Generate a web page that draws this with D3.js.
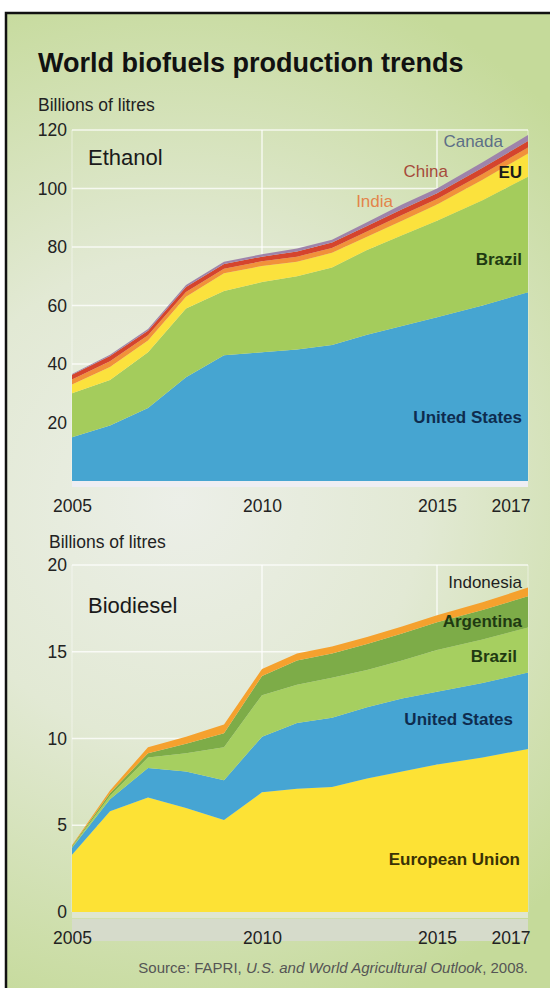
<!DOCTYPE html>
<html>
<head>
<meta charset="utf-8">
<script src="https://cdn.jsdelivr.net/npm/d3@7"></script>
<style>
  body { margin: 0; background: #fff; }
  svg { display: block; }
  text { font-family: "Liberation Sans", Arial, Helvetica, sans-serif; }
</style>
</head>
<body>
<svg id="chart" width="550" height="988"></svg>
<script>
// ---- Data (billions of litres) ----
const years = [2005, 2006, 2007, 2008, 2009, 2010, 2011, 2012, 2013, 2014, 2015, 2016, 2017];

// Ethanol
const ethanolUS     = [15, 19, 25, 35.5, 43, 44, 45, 46.5, 50, 53, 56, 60, 64.5];
const ethanolBrazil = [15, 15.5, 19, 23.5, 22, 24, 25, 26.5, 29, 31, 33, 36, 39.5];
const ethanolEU     = [3, 4.5, 4, 4, 6, 5.5, 5, 5, 4.5, 5, 5.5, 7, 8];
const ethanolIndia  = [1.7, 1.9, 1.8, 1.6, 1.6, 1.6, 1.7, 1.7, 1.8, 1.9, 1.9, 2.0, 2.0];
const ethanolChina  = [1.6, 1.8, 1.6, 1.7, 1.6, 1.6, 1.8, 1.8, 1.9, 2.0, 2.0, 2.1, 2.2];
const ethanolCanada = [0.3, 0.5, 0.6, 0.7, 0.8, 0.8, 1.0, 1.0, 1.3, 1.6, 1.6, 1.9, 2.1];

// Biodiesel
const biodieselEU        = [3.3, 5.8, 6.6, 6.0, 5.3, 6.9, 7.1, 7.2, 7.7, 8.1, 8.5, 8.9, 9.4];
const biodieselUS        = [0.4, 0.7, 1.7, 2.1, 2.3, 3.2, 3.8, 4.0, 4.1, 4.2, 4.2, 4.3, 4.4];
const biodieselBrazil    = [0.05, 0.2, 0.6, 1.05, 1.9, 2.4, 2.2, 2.3, 2.15, 2.2, 2.4, 2.5, 2.6];
const biodieselArgentina = [0.05, 0.15, 0.25, 0.55, 0.8, 1.1, 1.4, 1.4, 1.5, 1.55, 1.6, 1.7, 1.8];
const biodieselIndonesia = [0.05, 0.15, 0.35, 0.4, 0.5, 0.4, 0.4, 0.4, 0.4, 0.4, 0.4, 0.45, 0.5];

const xTicks = [2005, 2010, 2015, 2017];
const ethanolTicks = [20, 40, 60, 80, 100, 120];
const biodieselTicks = [0, 5, 10, 15, 20];

// ---- Setup ----
const svg = d3.select("#chart");
const defs = svg.append("defs");

const bg = defs.append("radialGradient")
  .attr("id", "bg").attr("gradientUnits", "userSpaceOnUse")
  .attr("cx", 180).attr("cy", 500).attr("r", 540);
bg.append("stop").attr("offset", 0).attr("stop-color", "#ecefe8");
bg.append("stop").attr("offset", 0.45).attr("stop-color", "#e2e9d4");
bg.append("stop").attr("offset", 1).attr("stop-color", "#c5da9a");

// framed panel
svg.append("rect").attr("x", 6).attr("y", 13).attr("width", 560).attr("height", 990)
  .attr("fill", "url(#bg)").attr("stroke", "#111").attr("stroke-width", 2.5);

svg.append("text").attr("x", 38).attr("y", 72)
  .attr("font-size", 27).attr("font-weight", "bold").attr("fill", "#111")
  .text("World biofuels production trends");

// horizontal scale shared by both panels
const x = d3.scaleLinear().domain([2005, 2010, 2015, 2017]).range([72, 262, 437, 528]);
const plotLeft = 72, plotRight = 528;

function panel(opts) {
  const g = svg.append("g");
  const y = d3.scaleLinear().domain(opts.yDomain).range(opts.yRange);

  g.append("text").attr("x", opts.unitX).attr("y", opts.unitY)
    .attr("font-size", 17.5).attr("fill", "#222").text("Billions of litres");

  // baseline band under the plot, and the strip behind the year labels
  g.append("rect").attr("x", plotLeft).attr("y", y(0))
    .attr("width", plotRight - plotLeft).attr("height", 6)
    .attr("fill", opts.bandColor);
  if (opts.labelStrip) {
    g.append("rect").attr("x", plotLeft).attr("y", y(0) + 7)
      .attr("width", plotRight - plotLeft).attr("height", 22)
      .attr("fill", opts.labelStrip);
  }

  // grid
  const top = y(opts.yDomain[1]);
  g.selectAll("line.h").data(opts.yTicks.filter(d => d > 0)).join("line")
    .attr("x1", plotLeft).attr("x2", plotRight)
    .attr("y1", d => y(d)).attr("y2", d => y(d))
    .attr("stroke", "#fff").attr("stroke-opacity", 0.75).attr("stroke-width", 1.5);
  g.selectAll("line.v").data([2010, 2015]).join("line")
    .attr("x1", d => x(d)).attr("x2", d => x(d))
    .attr("y1", top).attr("y2", y(0))
    .attr("stroke", "#fff").attr("stroke-opacity", 0.75).attr("stroke-width", 1.5);
  g.selectAll("line.e").data([2005, 2017]).join("line")
    .attr("x1", d => x(d)).attr("x2", d => x(d))
    .attr("y1", top).attr("y2", y(0))
    .attr("stroke", "#fff").attr("stroke-opacity", 0.4).attr("stroke-width", 1.2);

  // stacked areas
  const table = years.map((yr, i) => {
    const row = { year: yr };
    opts.series.forEach(s => { row[s.key] = s.values[i]; });
    return row;
  });
  const stack = d3.stack().keys(opts.series.map(s => s.key))(table);
  const area = d3.area()
    .x(d => x(d.data.year))
    .y0(d => y(d[0]))
    .y1(d => y(d[1]));
  g.selectAll("path.layer").data(stack).join("path")
    .attr("d", area)
    .attr("fill", (d, i) => opts.series[i].color);

  // axes
  const yAxis = g.append("g").attr("transform", `translate(${plotLeft},0)`)
    .call(d3.axisLeft(y).tickValues(opts.yTicks).tickSize(0).tickPadding(5));
  yAxis.select(".domain").remove();
  yAxis.selectAll("text").attr("font-size", 17.5).attr("fill", "#222")
    .attr("font-family", "'Liberation Sans', Arial, sans-serif");

  const xAxis = g.append("g").attr("transform", `translate(0,${y(0)})`)
    .call(d3.axisBottom(x).tickValues(xTicks).tickFormat(d3.format("d"))
      .tickSize(0).tickPadding(opts.xPad));
  xAxis.select(".domain").remove();
  xAxis.selectAll("text").attr("font-size", 17.5).attr("fill", "#222")
    .attr("font-family", "'Liberation Sans', Arial, sans-serif");
  xAxis.selectAll(".tick").filter(d => d === 2017).select("text")
    .attr("text-anchor", "end").attr("dx", 2);

  // panel title
  g.append("text").attr("x", 88).attr("y", opts.titleY)
    .attr("font-size", 22).attr("fill", "#1a1a1a").text(opts.title);

  // series labels
  g.selectAll("text.lbl").data(opts.labels).join("text")
    .attr("x", d => d.x).attr("y", d => d.y)
    .attr("text-anchor", d => d.anchor || "end")
    .attr("font-size", 17)
    .attr("font-weight", d => d.bold ? "bold" : "normal")
    .attr("fill", d => d.color)
    .text(d => d.text);
}

panel({
  title: "Ethanol", titleY: 165,
  unitX: 38, unitY: 111,
  yDomain: [0, 120], yRange: [481, 130], yTicks: ethanolTicks, xPad: 18.5,
  bandColor: "#eeeef3",
  series: [
    { key: "United States", values: ethanolUS, color: "#46a5d1" },
    { key: "Brazil", values: ethanolBrazil, color: "#a4cc5c" },
    { key: "EU", values: ethanolEU, color: "#fbe23d" },
    { key: "India", values: ethanolIndia, color: "#f1913a" },
    { key: "China", values: ethanolChina, color: "#d5442d" },
    { key: "Canada", values: ethanolCanada, color: "#9e84ab" }
  ],
  labels: [
    { text: "Canada", x: 503, y: 147, color: "#5d6f87" },
    { text: "China", x: 448, y: 177, color: "#a64b3b" },
    { text: "India", x: 393, y: 207, color: "#e3844a" },
    { text: "EU", x: 522, y: 178, color: "#1a1a1a", bold: true },
    { text: "Brazil", x: 522, y: 265, color: "#1f3a12", bold: true },
    { text: "United States", x: 522, y: 423, color: "#0e2c4f", bold: true }
  ]
});

panel({
  title: "Biodiesel", titleY: 613,
  unitX: 49, unitY: 548,
  yDomain: [0, 20], yRange: [912, 565], yTicks: biodieselTicks, xPad: 19.5,
  bandColor: "#dfe6d0", labelStrip: "#d6dbcb",
  series: [
    { key: "European Union", values: biodieselEU, color: "#fde235" },
    { key: "United States", values: biodieselUS, color: "#46a5d3" },
    { key: "Brazil", values: biodieselBrazil, color: "#a6cf60" },
    { key: "Argentina", values: biodieselArgentina, color: "#7dac48" },
    { key: "Indonesia", values: biodieselIndonesia, color: "#f5a12e" }
  ],
  labels: [
    { text: "Indonesia", x: 522, y: 588, color: "#1e1e1e" },
    { text: "Argentina", x: 522, y: 627, color: "#1f3a12", bold: true },
    { text: "Brazil", x: 517, y: 662, color: "#1f3a12", bold: true },
    { text: "United States", x: 513, y: 725, color: "#0e2c4f", bold: true },
    { text: "European Union", x: 520, y: 865, color: "#3a3205", bold: true }
  ]
});

// source note
const src = svg.append("text").attr("x", 528).attr("y", 973)
  .attr("text-anchor", "end").attr("font-size", 15).attr("fill", "#555");
src.append("tspan").text("Source: FAPRI, ");
src.append("tspan").attr("font-style", "italic").text("U.S. and World Agricultural Outlook");
src.append("tspan").text(", 2008.");
</script>
</body>
</html>
